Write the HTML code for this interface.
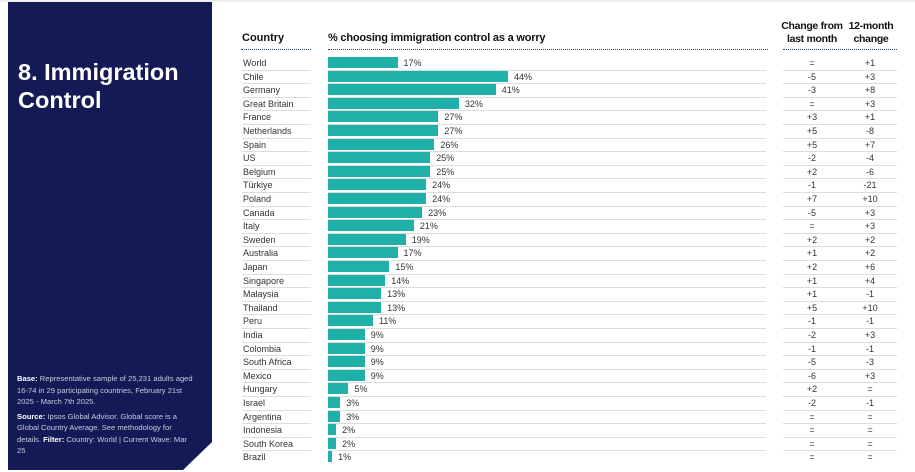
<!DOCTYPE html><html><head><style>
body{margin:0;width:915px;height:472px;background:#fff;position:relative;overflow:hidden;font-family:"Liberation Sans",sans-serif;}
.a{position:absolute;white-space:nowrap;}
.t{font-size:9px;color:#333;line-height:11px;}
.h{font-size:11px;font-weight:bold;color:#111;}
.bar{position:absolute;height:11px;background:#1fb0aa;}
.ln{position:absolute;height:1px;background:#ddd;}
.dot{position:absolute;height:0;border-top:1.5px dotted #2a4a6a;}
</style></head><body>
<div class="a" style="left:0;top:0;width:915px;height:2px;background:#eee"></div>
<svg class="a" style="left:0;top:0" width="215" height="472"><polygon points="8,2 212,2 212,442 183,470 8,470" fill="#131a55"/></svg>
<div class="a" style="left:18px;top:58px;color:#fff;font-size:23.5px;font-weight:bold;line-height:28px">8. Immigration<br>Control</div>
<div class="a" style="left:17px;top:373px;color:#c8cbe0;font-size:7.6px;line-height:11.5px;white-space:normal;width:178px"><b style="color:#fff">Base:</b> Representative sample of 25,231 adults aged 16-74 in 29 participating countries, February 21st 2025 - March 7th 2025.<div style="height:3px"></div><b style="color:#fff">Source:</b> Ipsos Global Advisor. Global score is a Global Country Average. See methodology for details. <b style="color:#fff">Filter:</b> Country: World | Current Wave: Mar 25</div>
<div class="a h" style="left:242px;top:32px">Country</div>
<div class="a h" style="left:328px;top:32px;letter-spacing:-0.2px">% choosing immigration control as a worry</div>
<div class="a h" style="left:781px;top:20px;width:62px;text-align:center;line-height:13px;font-size:10.5px;letter-spacing:-0.3px">Change from<br>last month</div>
<div class="a h" style="left:843px;top:20px;width:56px;text-align:center;line-height:13px;font-size:10.5px;letter-spacing:-0.3px">12-month<br>change</div>
<div class="dot" style="left:241px;top:49px;width:70px"></div>
<div class="dot" style="left:328px;top:49px;width:440px"></div>
<div class="dot" style="left:783px;top:49px;width:114px"></div>
<div id="rows"></div>
<script>
var d=[["World",17,"=","+1"],["Chile",44,"-5","+3"],["Germany",41,"-3","+8"],["Great Britain",32,"=","+3"],["France",27,"+3","+1"],["Netherlands",27,"+5","-8"],["Spain",26,"+5","+7"],["US",25,"-2","-4"],["Belgium",25,"+2","-6"],["Türkiye",24,"-1","-21"],["Poland",24,"+7","+10"],["Canada",23,"-5","+3"],["Italy",21,"=","+3"],["Sweden",19,"+2","+2"],["Australia",17,"+1","+2"],["Japan",15,"+2","+6"],["Singapore",14,"+1","+4"],["Malaysia",13,"+1","-1"],["Thailand",13,"+5","+10"],["Peru",11,"-1","-1"],["India",9,"-2","+3"],["Colombia",9,"-1","-1"],["South Africa",9,"-5","-3"],["Mexico",9,"-6","+3"],["Hungary",5,"+2","="],["Israel",3,"-2","-1"],["Argentina",3,"=","="],["Indonesia",2,"=","="],["South Korea",2,"=","="],["Brazil",1,"=","="]];
var h="",p=13.6;
d.forEach(function(r,i){var y=57+i*p;var w=r[1]*4.09;
h+='<div class="a t" style="left:243px;top:'+(y+1)+'px">'+r[0]+'</div>';
h+='<div class="bar" style="left:328px;top:'+y+'px;width:'+w+'px"></div>';
h+='<div class="a t" style="left:'+(328+w+6)+'px;top:'+(y+1)+'px">'+r[1]+'%</div>';
h+='<div class="a t" style="left:783px;width:58px;text-align:center;top:'+(y+1)+'px">'+r[2]+'</div>';
h+='<div class="a t" style="left:842px;width:56px;text-align:center;top:'+(y+1)+'px">'+r[3]+'</div>';
if(i<d.length-1){var ly=y+12.5;
h+='<div class="ln" style="left:242px;width:69px;top:'+ly+'px"></div>';
h+='<div class="ln" style="left:328px;width:438px;top:'+ly+'px"></div>';
h+='<div class="ln" style="left:783px;width:114px;top:'+ly+'px"></div>';}
});
document.getElementById("rows").innerHTML=h;
</script>
</body></html>
